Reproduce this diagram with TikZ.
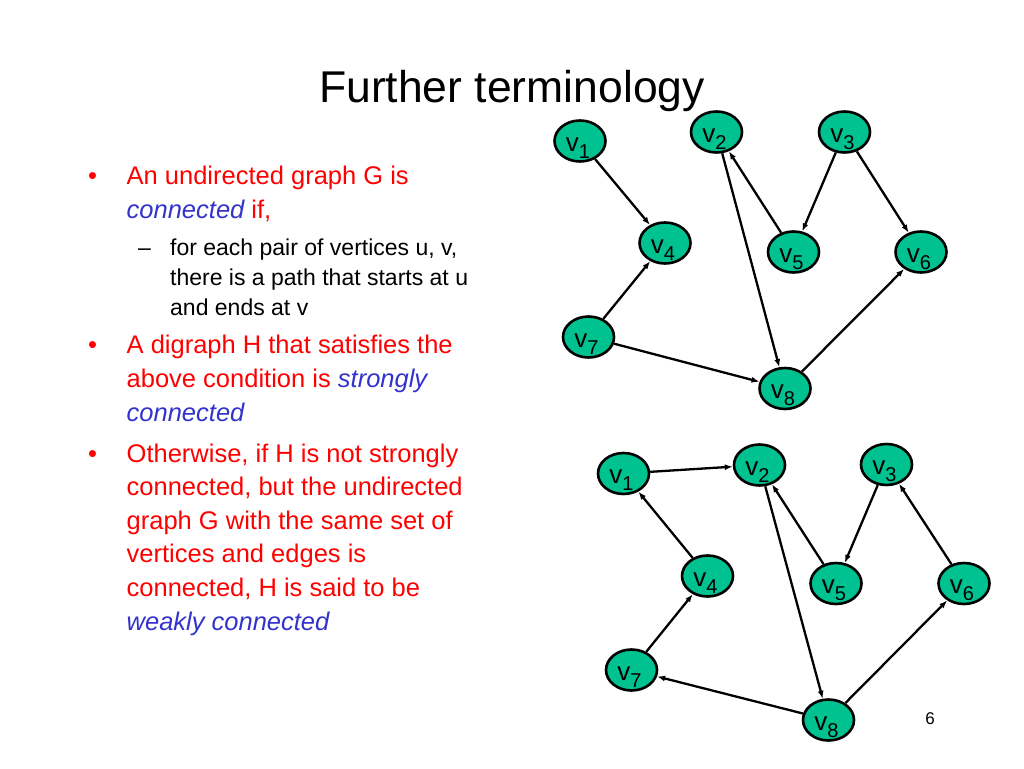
\documentclass[tikz,border=0pt]{standalone}
\usepackage{fontspec}
\setmainfont{Liberation Sans}
\usetikzlibrary{arrows.meta,shapes.geometric}
\definecolor{nodegreen}{RGB}{0,194,144}
\definecolor{txtred}{RGB}{255,0,0}
\definecolor{txtblue}{RGB}{51,51,204}
\newcommand{\vlab}[1]{v\smash{\raisebox{-7pt}{\fontsize{20}{20}\selectfont #1}}\kern4pt}
\begin{document}
\begin{tikzpicture}[x=1pt,y=-1pt,
  vert/.style={ellipse,draw=black,line width=2.6pt,fill=nodegreen,minimum width=51pt,minimum height=41pt,inner sep=0pt,
    font=\fontsize{26}{26}\selectfont,text height=20pt,text depth=0pt},
  edge/.style={line width=2.3pt,-{Latex[length=8pt,width=6pt]}},
  bul/.style={anchor=base west,inner sep=0pt,font=\fontsize{25.5}{30}\selectfont,text=txtred},
  sub/.style={anchor=base west,inner sep=0pt,font=\fontsize{23}{28}\selectfont,text=black}]
\useasboundingbox[fill=white] (0,0) rectangle (1024,768);
% title
\node[anchor=base,inner sep=0pt,font=\fontsize{44.5}{50}\selectfont] (title) at (512,102) {Further terminology};
% bullet 1
\node[bul] (b1) at (88,184) {•};
\node[bul] (l1) at (126.5,184) {An undirected graph G is};
\node[bul] (l2) at (126.5,218) {\textcolor{txtblue}{\itshape connected} if,};
\node[sub] (d1) at (138,255) {–};
\node[sub] (s1) at (170,255) {for each pair of vertices u, v,};
\node[sub] (s2) at (170,285) {there is a path that starts at u};
\node[sub] (s3) at (170,315) {and ends at v};
% bullet 2
\node[bul] (b2) at (88,353) {•};
\node[bul] (l3) at (126.5,353) {A digraph H that satisfies the};
\node[bul] (l4) at (126.5,387) {above condition is \textcolor{txtblue}{\itshape strongly}};
\node[bul] (l5) at (126.5,421) {\textcolor{txtblue}{\itshape connected}};
% bullet 3
\node[bul] (b3) at (88,462) {•};
\node[bul] (l6) at (126.5,462) {Otherwise, if H is not strongly};
\node[bul] (l7) at (126.5,495.5) {connected, but the undirected};
\node[bul] (l8) at (126.5,529) {graph G with the same set of};
\node[bul] (l9) at (126.5,562.5) {vertices and edges is};
\node[bul] (l10) at (126.5,596.5) {connected, H is said to be};
\node[bul] (l11) at (126.5,630) {\textcolor{txtblue}{\itshape weakly connected}};
% page number
\node[anchor=base,inner sep=0pt,font=\fontsize{17}{20}\selectfont] (pg) at (930,724) {6};
% top graph
\node[vert] (a1) at (580,141) {\vlab{1}};
\node[vert] (a2) at (716.5,132) {\vlab{2}};
\node[vert] (a3) at (844.5,132) {\vlab{3}};
\node[vert] (a4) at (665,243) {\vlab{4}};
\node[vert] (a5) at (793.5,252) {\vlab{5}};
\node[vert] (a6) at (921,252) {\vlab{6}};
\node[vert] (a7) at (588.5,337) {\vlab{7}};
\node[vert] (a8) at (785,388.5) {\vlab{8}};
\draw[edge] (a1) -- (a4);
\draw[edge] (a2) -- (a8);
\draw[edge] (a5) -- (a2);
\draw[edge] (a3) -- (a5);
\draw[edge] (a3) -- (a6);
\draw[edge] (a7) -- (a4);
\draw[edge] (a7) -- (a8);
\draw[edge] (a8) -- (a6);
% bottom graph
\node[vert] (c1) at (623.5,473.5) {\vlab{1}};
\node[vert] (c2) at (759.5,465) {\vlab{2}};
\node[vert] (c3) at (886.5,464.5) {\vlab{3}};
\node[vert] (c4) at (707.5,576) {\vlab{4}};
\node[vert] (c5) at (836,583.5) {\vlab{5}};
\node[vert] (c6) at (964,583.5) {\vlab{6}};
\node[vert] (c7) at (631.5,670) {\vlab{7}};
\node[vert] (c8) at (828.5,720) {\vlab{8}};
\draw[edge] (c1) -- (c2);
\draw[edge] (c4) -- (c1);
\draw[edge] (c2) -- (c8);
\draw[edge] (c5) -- (c2);
\draw[edge] (c3) -- (c5);
\draw[edge] (c6) -- (c3);
\draw[edge] (c7) -- (c4);
\draw[edge] (c8) -- (c7);
\draw[edge] (c8) -- (c6);
\end{tikzpicture}
\end{document}
